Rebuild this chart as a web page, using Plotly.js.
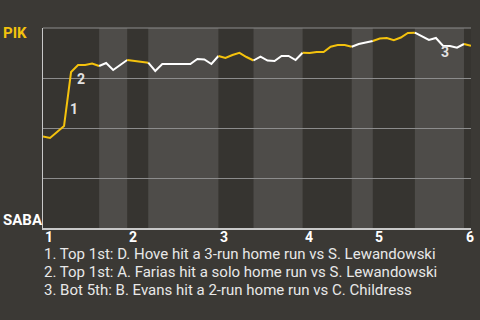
<!DOCTYPE html>
<html><head><meta charset="utf-8">
<script src="https://cdn.plot.ly/plotly-3.0.1.min.js"></script>
<style>html,body{margin:0;padding:0;background:#3b3935;}#chart{width:480px;height:320px;}</style>
</head><body><div id="chart"></div>
<script>
// Inning labels and the plate-appearance index where each inning starts
const innings = ['1','2','3','4','5','6'];
const inningStartPA = [0, 12, 25, 37, 47, 60];
// Half-inning boundaries (PA index): top1, bot1, top2, bot2, ...
const halfBoundaries = [0, 8, 12, 15, 25, 30, 37, 44, 47, 53, 60, 61];
// PIK win probability after each plate appearance
const winProb = [0.457,0.45,0.48,0.51,0.78,0.815,0.815,0.8225,0.81,0.825,
  0.79,0.815,0.84,0.835,0.83,0.8265,0.785,0.82,0.82,0.82,
  0.82,0.82,0.845,0.8425,0.82,0.86,0.85,0.865,0.876,0.855,
  0.8375,0.857,0.8375,0.835,0.86,0.86,0.84,0.8765,0.875,0.88,
  0.88,0.9065,0.915,0.915,0.9065,0.92,0.9275,0.935,0.9475,0.95,
  0.9385,0.9525,0.975,0.9765,0.9565,0.94,0.95,0.9115,0.91,0.9015,
  0.92,0.9115];
// Key events: PA index after the event, label, description
const eventPA = [4, 5, 57];
const eventLabel = ['1', '2', '3'];
const eventText = [
  'Top 1st: D. Hove hit a 3-run home run vs S. Lewandowski',
  'Top 1st: A. Farias hit a solo home run vs S. Lewandowski',
  'Bot 5th: B. Evans hit a 2-run home run vs C. Childress'
];
const teamTop = 'PIK', teamBottom = 'SABA';

const YELLOW = '#f4c20d', WHITE = '#ffffff';
const PLOT_H = 200, PLOT_W = 428;
const py = p => (228 - p) / PLOT_H;   // pixel row -> paper y
const traces = [];
const shapes = [];
for (let h = 0; h < halfBoundaries.length - 1; h++) {
  const a = halfBoundaries[h], b = halfBoundaries[h+1];
  const xs = [], ys = [];
  for (let i = a; i <= b && i < winProb.length; i++) { xs.push(i); ys.push(winProb[i]); }
  const isTop = h % 2 === 0;
  traces.push({x: xs, y: ys, mode: 'lines', type: 'scatter', hoverinfo: 'skip',
    line: {color: isTop ? YELLOW : WHITE, width: 2, shape: 'linear'}});
  if (!isTop) {
    shapes.push({type: 'rect', xref: 'x', yref: 'paper', x0: a, x1: b, y0: 0, y1: 1,
      fillcolor: '#4e4c49', line: {width: 0}, layer: 'below'});
  }
}
// top border gridline
shapes.push({type: 'line', xref: 'paper', yref: 'paper', x0: 0, x1: 1, y0: 1, y1: 1,
  line: {color: '#8c8c8c', width: 1}, layer: 'below'});

const annotations = [];
for (let k = 0; k < eventPA.length; k++) {
  const i = eventPA[k];
  annotations.push({xref: 'x', yref: 'y', x: i - 0.5, y: (winProb[i] + winProb[i-1]) / 2,
    text: eventLabel[k], showarrow: false, xshift: 6, yshift: -10,
    font: {family: 'Roboto', size: 14, color: '#e2e2e2', weight: 'bold'}});
}
for (let k = 0; k < innings.length; k++) {
  annotations.push({xref: 'x', yref: 'paper', x: inningStartPA[k], y: py(237), xanchor: 'left', yanchor: 'middle',
    xshift: 0, text: innings[k], showarrow: false,
    font: {family: 'Roboto', size: 14, color: '#ffffff', weight: 'bold'}});
}
annotations.push({xref: 'paper', yref: 'paper', x: -42/PLOT_W, y: py(33.5), xanchor: 'left', yanchor: 'middle',
  text: teamTop, showarrow: false, font: {family: 'Roboto', size: 15, color: YELLOW, weight: 'bold'}});
annotations.push({xref: 'paper', yref: 'paper', x: -42/PLOT_W, y: py(220), xanchor: 'left', yanchor: 'middle',
  text: teamBottom, showarrow: false, font: {family: 'Roboto', size: 15, color: '#ffffff', weight: 'bold'}});
for (let k = 0; k < eventText.length; k++) {
  annotations.push({xref: 'paper', yref: 'paper', x: 0, y: py(254 + 18 * k), xanchor: 'left', yanchor: 'middle',
    xshift: -1, text: eventLabel[k] + '. ' + eventText[k], showarrow: false,
    font: {family: 'Roboto', size: 15, color: '#e8e8e8'}});
}

const layout = {
  width: 480, height: 320,
  margin: {l: 43, r: 9, t: 28, b: 92, pad: 0},
  paper_bgcolor: '#3b3935', plot_bgcolor: '#363430',
  showlegend: false,
  xaxis: {range: [0, 61], showticklabels: false,
    showgrid: false, zeroline: false, showline: true, linecolor: '#c8c8c8', linewidth: 1.5, ticks: '', fixedrange: true},
  yaxis: {range: [0, 1], tickvals: [0.25, 0.5, 0.75], showticklabels: false, showgrid: true,
    gridcolor: '#8c8c8c', gridwidth: 1, zeroline: false, showline: true, linecolor: '#c8c8c8', linewidth: 1.5,
    ticks: '', fixedrange: true},
  shapes: shapes,
  annotations: annotations
};
Plotly.newPlot('chart', traces, layout, {staticPlot: true, displayModeBar: false});
</script></body></html>
